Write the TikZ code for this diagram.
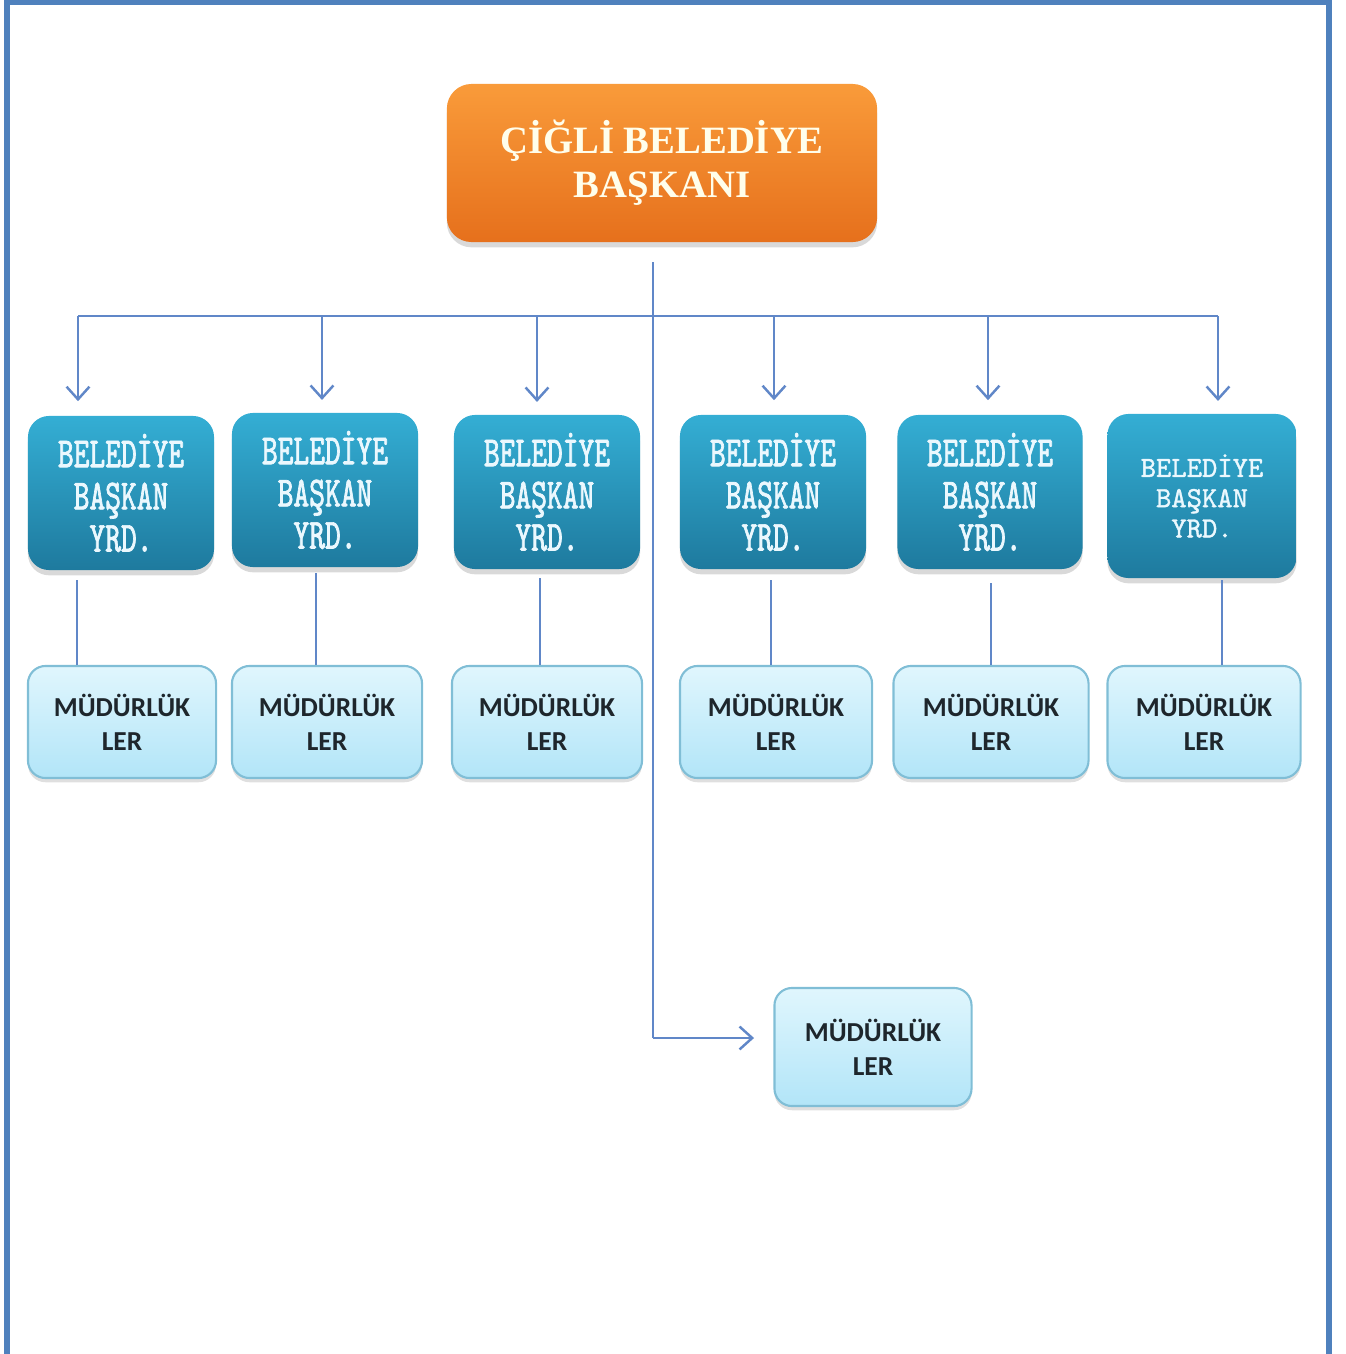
\documentclass[tikz,border=0pt]{standalone}
\usepackage{fontspec}
\setmainfont{Liberation Serif}
\newfontfamily\yrdfont[FakeStretch=0.70,FakeBold=1.6]{lmmono10-regular.otf}
\newfontfamily\yrdsmall[FakeBold=1.2]{lmmono10-regular.otf}
\newfontfamily\mudfont{Carlito}
\usepackage{tikz}
\usetikzlibrary{positioning}
\usetikzlibrary{arrows.meta}
\usetikzlibrary{shadows}
\usepackage{xcolor}

\definecolor{framecol}{RGB}{79,129,189}
\definecolor{linkcol}{RGB}{96,135,200}
\definecolor{orangetop}{RGB}{249,155,58}
\definecolor{orangebot}{RGB}{230,112,28}
\definecolor{tealtop}{RGB}{52,174,212}
\definecolor{tealbot}{RGB}{30,122,158}
\definecolor{skytop}{RGB}{224,246,253}
\definecolor{skybot}{RGB}{178,229,248}
\definecolor{skyline}{RGB}{128,190,214}
\definecolor{mudtext}{RGB}{30,38,44}

\tikzset{
  headbox/.style={rounded corners=7pt, top color=orangetop, bottom color=orangebot,
    minimum width=4.30cm, minimum height=1.58cm, inner sep=0pt, align=center,
    text=white!92!yellow, font=\bfseries\fontsize{11}{12.4}\selectfont,
    drop shadow={shadow xshift=0pt, shadow yshift=-1.5pt, opacity=0.3}},
  yrdbox/.style={rounded corners=6pt, top color=tealtop, bottom color=tealbot,
    minimum width=1.86cm, minimum height=1.54cm, inner sep=0pt, align=center,
    text=white!92!cyan, font=\yrdfont\fontsize{12.2}{12}\selectfont,
    drop shadow={shadow xshift=0pt, shadow yshift=-1.5pt, opacity=0.3}},
  mudbox/.style={rounded corners=5pt, draw=skyline, line width=0.6pt,
    top color=skytop, bottom color=skybot,
    minimum width=1.90cm, minimum height=1.12cm, inner sep=0pt, align=center,
    text=mudtext, font=\mudfont\bfseries\fontsize{7.8}{9.7}\selectfont,
    drop shadow={shadow xshift=0pt, shadow yshift=-1.2pt, opacity=0.25}},
  link/.style={draw=linkcol, line width=0.7pt},
  tip/.style={-{Straight Barb[length=3.6pt,width=6.5pt,line width=0.7pt]}}
}

\begin{document}
\begin{tikzpicture}[x=0.01cm,y=-0.01cm]

\useasboundingbox (0,0) rectangle (1346,1354);

% frame
\draw[framecol, line width=1.7pt] (7,1354) -- (7,2) -- (1329,2) -- (1329,1354);

% nodes
\node[headbox] (baskan) at (662,163) {ÇİĞLİ BELEDİYE\\BAŞKANI};

\node[yrdbox] (yrd1) at (121,493) {BELEDİYE\\BAŞKAN\\YRD.};
\node[yrdbox] (yrd2) at (325,490) {BELEDİYE\\BAŞKAN\\YRD.};
\node[yrdbox] (yrd3) at (547,492) {BELEDİYE\\BAŞKAN\\YRD.};
\node[yrdbox] (yrd4) at (773,492) {BELEDİYE\\BAŞKAN\\YRD.};
\node[yrdbox, minimum width=1.85cm] (yrd5) at (990,492) {BELEDİYE\\BAŞKAN\\YRD.};
\node[yrdbox, minimum width=1.89cm, minimum height=1.64cm,
  font=\yrdsmall\fontsize{8.3}{8.6}\selectfont]
  (yrd6) at (1202,496) {BELEDİYE\\BAŞKAN\\YRD.};

\node[mudbox, minimum width=1.88cm] (mud1) at (122,722) {MÜDÜRLÜK\\LER};
\node[mudbox] (mud2) at (327,722) {MÜDÜRLÜK\\LER};
\node[mudbox] (mud3) at (547,722) {MÜDÜRLÜK\\LER};
\node[mudbox, minimum width=1.92cm] (mud4) at (776,722) {MÜDÜRLÜK\\LER};
\node[mudbox, minimum width=1.95cm] (mud5) at (991,722) {MÜDÜRLÜK\\LER};
\node[mudbox, minimum width=1.93cm] (mud6) at (1204,722) {MÜDÜRLÜK\\LER};

\node[mudbox, minimum width=1.97cm, minimum height=1.18cm] (mud7) at (873,1047) {MÜDÜRLÜK\\LER};

% connectors
\coordinate (t0) at (653,262);
\coordinate (t1) at (653,1038);
\draw[link] (t0) -- (t1);
\draw[link, tip, shorten >=5.5pt] (t1) -- (t1 -| mud7.west);

\coordinate (b1) at (78,316);
\coordinate (b2) at (322,316);
\coordinate (b3) at (537,316);
\coordinate (b4) at (774,316);
\coordinate (b5) at (988,316);
\coordinate (b6) at (1218,316);
\draw[link] (b1) -- (b6);

\draw[link, tip, shorten >=4pt] (b1) -- (b1 |- yrd1.north);
\draw[link, tip, shorten >=3.5pt] (b2) -- (b2 |- yrd2.north);
\draw[link, tip, shorten >=3.5pt] (b3) -- (b3 |- yrd3.north);
\draw[link, tip, shorten >=4pt] (b4) -- (b4 |- yrd4.north);
\draw[link, tip, shorten >=4pt] (b5) -- (b5 |- yrd5.north);
\draw[link, tip, shorten >=3.5pt] (b6) -- (b6 |- yrd6.north);

\coordinate (c1) at (77,580);
\coordinate (c2) at (316,573);
\coordinate (c3) at (540,578);
\coordinate (c4) at (771,580);
\coordinate (c5) at (991,583);
\coordinate (c6) at (1222,580);
\draw[link] (c1) -- (c1 |- mud1.north);
\draw[link] (c2) -- (c2 |- mud2.north);
\draw[link] (c3) -- (c3 |- mud3.north);
\draw[link] (c4) -- (c4 |- mud4.north);
\draw[link] (c5) -- (c5 |- mud5.north);
\draw[link] (c6) -- (c6 |- mud6.north);

\end{tikzpicture}
\end{document}
